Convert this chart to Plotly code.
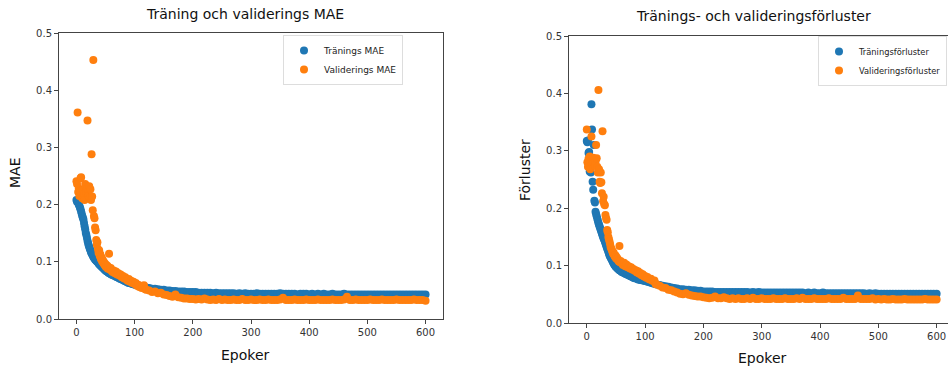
import plotly.graph_objects as go

# x sampling (epochs)
epochs = list(range(0, 60)) + list(range(60, 120, 2)) + list(range(120, 601, 5))

x_ticks = [0, 100, 200, 300, 400, 500, 600]
y_ticks = [0.0, 0.1, 0.2, 0.3, 0.4, 0.5]

train_mae = [
    0.208, 0.205, 0.206, 0.203, 0.200, 0.198, 0.195, 0.192, 0.188, 0.184,
    0.180, 0.177, 0.174, 0.168, 0.162, 0.157, 0.151, 0.147, 0.142, 0.137,
    0.133, 0.129, 0.126, 0.123, 0.120, 0.117, 0.115, 0.113, 0.111, 0.109,
    0.107, 0.106, 0.104, 0.103, 0.102, 0.101, 0.100, 0.099, 0.097, 0.096,
    0.095, 0.094, 0.093, 0.092, 0.091, 0.090, 0.089, 0.088, 0.087, 0.086,
    0.085, 0.084, 0.084, 0.083, 0.082, 0.081, 0.081, 0.080, 0.079, 0.079,
    # 60-118 step 2
    0.078, 0.077, 0.076, 0.075, 0.074, 0.073, 0.072, 0.071, 0.070, 0.069,
    0.068, 0.067, 0.066, 0.065, 0.064, 0.063, 0.063, 0.062, 0.061, 0.061,
    0.060, 0.060, 0.059, 0.058, 0.058, 0.057, 0.057, 0.056, 0.056, 0.055,
    # 120-600 step 5
    0.055, 0.054, 0.053, 0.053, 0.052, 0.051, 0.051, 0.050, 0.050, 0.049,
    0.049, 0.048, 0.048, 0.048, 0.047, 0.047, 0.047, 0.047, 0.046, 0.046,
    0.046, 0.046, 0.046, 0.045, 0.046, 0.045, 0.045, 0.045, 0.045, 0.045,
    0.045, 0.044, 0.045, 0.044, 0.045, 0.044, 0.044, 0.044, 0.045, 0.044,
    0.044, 0.044, 0.044, 0.044, 0.044, 0.044, 0.045, 0.044, 0.044, 0.044,
    0.044, 0.044, 0.043, 0.044, 0.044, 0.044, 0.043, 0.044, 0.043, 0.044,
    0.043, 0.044, 0.043, 0.043, 0.044, 0.043, 0.043, 0.043, 0.044, 0.043,
    0.043, 0.043, 0.043, 0.043, 0.043, 0.043, 0.043, 0.043, 0.043, 0.043,
    0.043, 0.043, 0.043, 0.043, 0.043, 0.043, 0.043, 0.043, 0.043, 0.043,
    0.043, 0.043, 0.043, 0.043, 0.043, 0.043, 0.043,
]

val_mae = [
    0.241, 0.236, 0.361, 0.222, 0.228, 0.215, 0.224, 0.246, 0.248, 0.218,
    0.211, 0.226, 0.214, 0.219, 0.208, 0.236, 0.232, 0.221, 0.228, 0.347,
    0.222, 0.215, 0.232, 0.212, 0.227, 0.208, 0.288, 0.214, 0.190, 0.453,
    0.180, 0.176, 0.160, 0.155, 0.138, 0.130, 0.134, 0.122, 0.116, 0.120,
    0.110, 0.113, 0.105, 0.108, 0.101, 0.104, 0.098, 0.100, 0.095, 0.097,
    0.092, 0.095, 0.090, 0.093, 0.088, 0.091, 0.114, 0.088, 0.086, 0.089,
    # 60-118 step 2
    0.085, 0.082, 0.085, 0.080, 0.083, 0.078, 0.080, 0.076, 0.078, 0.073,
    0.075, 0.071, 0.073, 0.069, 0.067, 0.070, 0.065, 0.067, 0.063, 0.065,
    0.061, 0.063, 0.058, 0.060, 0.056, 0.058, 0.054, 0.056, 0.059, 0.052,
    # 120-600 step 5
    0.051, 0.050, 0.047, 0.048, 0.045, 0.046, 0.043, 0.042, 0.040, 0.039,
    0.043, 0.038, 0.037, 0.036, 0.036, 0.035, 0.035, 0.034, 0.035, 0.034,
    0.036, 0.034, 0.033, 0.034, 0.033, 0.035, 0.033, 0.034, 0.033, 0.033,
    0.034, 0.033, 0.033, 0.035, 0.033, 0.033, 0.034, 0.033, 0.033, 0.034,
    0.033, 0.033, 0.034, 0.033, 0.033, 0.033, 0.034, 0.037, 0.033, 0.033,
    0.033, 0.034, 0.033, 0.033, 0.033, 0.034, 0.033, 0.033, 0.033, 0.034,
    0.033, 0.033, 0.033, 0.033, 0.034, 0.033, 0.033, 0.033, 0.034, 0.039,
    0.033, 0.033, 0.034, 0.033, 0.033, 0.033, 0.033, 0.034, 0.033, 0.033,
    0.033, 0.034, 0.033, 0.033, 0.033, 0.033, 0.034, 0.033, 0.033, 0.033,
    0.033, 0.033, 0.034, 0.033, 0.033, 0.033, 0.032,
]

train_loss = [
    0.317, 0.315, 0.318, 0.296, 0.298, 0.264, 0.280, 0.262, 0.381, 0.337,
    0.246, 0.232, 0.310, 0.213, 0.210, 0.194, 0.190, 0.186, 0.182, 0.178,
    0.174, 0.171, 0.168, 0.165, 0.162, 0.159, 0.156, 0.153, 0.150, 0.147,
    0.145, 0.142, 0.139, 0.136, 0.133, 0.130, 0.127, 0.124, 0.121, 0.118,
    0.116, 0.114, 0.112, 0.110, 0.108, 0.106, 0.104, 0.102, 0.101, 0.099,
    0.098, 0.097, 0.096, 0.095, 0.094, 0.093, 0.092, 0.092, 0.091, 0.090,
    # 60-118 step 2
    0.089, 0.088, 0.087, 0.086, 0.085, 0.084, 0.083, 0.082, 0.081, 0.080,
    0.079, 0.078, 0.078, 0.077, 0.076, 0.076, 0.075, 0.075, 0.074, 0.074,
    0.073, 0.073, 0.072, 0.072, 0.071, 0.070, 0.070, 0.069, 0.069, 0.068,
    # 120-600 step 5
    0.067, 0.066, 0.065, 0.064, 0.063, 0.062, 0.061, 0.060, 0.059, 0.059,
    0.058, 0.058, 0.057, 0.057, 0.056, 0.056, 0.055, 0.055, 0.055, 0.055,
    0.054, 0.054, 0.054, 0.054, 0.054, 0.054, 0.054, 0.054, 0.054, 0.054,
    0.054, 0.054, 0.053, 0.054, 0.053, 0.054, 0.053, 0.053, 0.053, 0.053,
    0.053, 0.053, 0.053, 0.053, 0.053, 0.053, 0.053, 0.053, 0.053, 0.053,
    0.053, 0.052, 0.053, 0.052, 0.053, 0.052, 0.052, 0.053, 0.052, 0.052,
    0.052, 0.052, 0.052, 0.052, 0.052, 0.052, 0.052, 0.052, 0.052, 0.052,
    0.052, 0.052, 0.051, 0.052, 0.051, 0.052, 0.051, 0.051, 0.051, 0.051,
    0.051, 0.051, 0.051, 0.051, 0.051, 0.051, 0.051, 0.051, 0.051, 0.051,
    0.051, 0.051, 0.051, 0.051, 0.051, 0.051, 0.051,
]

val_loss = [
    0.337, 0.280, 0.272, 0.286, 0.276, 0.290, 0.268, 0.282, 0.325, 0.284,
    0.277, 0.288, 0.279, 0.286, 0.274, 0.281, 0.310, 0.287, 0.272, 0.262,
    0.406, 0.268, 0.246, 0.244, 0.262, 0.245, 0.226, 0.334, 0.212, 0.220,
    0.207, 0.205, 0.188, 0.183, 0.180, 0.162, 0.158, 0.150, 0.146, 0.142,
    0.137, 0.132, 0.130, 0.127, 0.124, 0.121, 0.123, 0.118, 0.116, 0.118,
    0.113, 0.115, 0.111, 0.112, 0.109, 0.107, 0.134, 0.106, 0.108, 0.105,
    # 60-118 step 2
    0.104, 0.101, 0.105, 0.099, 0.102, 0.097, 0.099, 0.095, 0.097, 0.093,
    0.094, 0.091, 0.092, 0.088, 0.090, 0.086, 0.087, 0.083, 0.085, 0.081,
    0.082, 0.079, 0.080, 0.077, 0.076, 0.077, 0.074, 0.073, 0.074, 0.068,
    # 120-600 step 5
    0.067, 0.065, 0.062, 0.061, 0.058, 0.057, 0.055, 0.053, 0.051, 0.050,
    0.052, 0.049, 0.048, 0.047, 0.046, 0.046, 0.045, 0.044, 0.043, 0.044,
    0.046, 0.043, 0.043, 0.045, 0.043, 0.042, 0.043, 0.042, 0.043, 0.042,
    0.042, 0.043, 0.042, 0.044, 0.042, 0.042, 0.043, 0.042, 0.042, 0.042,
    0.043, 0.042, 0.042, 0.042, 0.043, 0.042, 0.042, 0.042, 0.043, 0.042,
    0.044, 0.042, 0.042, 0.042, 0.043, 0.042, 0.042, 0.042, 0.042, 0.043,
    0.042, 0.042, 0.042, 0.042, 0.044, 0.042, 0.042, 0.042, 0.042, 0.048,
    0.042, 0.042, 0.042, 0.042, 0.043, 0.041, 0.042, 0.041, 0.042, 0.041,
    0.041, 0.042, 0.041, 0.041, 0.041, 0.042, 0.041, 0.041, 0.041, 0.041,
    0.041, 0.041, 0.042, 0.041, 0.041, 0.041, 0.041,
]

BLUE = "#1f77b4"
ORANGE = "#ff7f0e"
FONT = "DejaVu Sans"
W, H = 948, 367

fig = go.Figure()
fig.add_trace(go.Scatter(x=epochs, y=train_mae, mode="markers", name="Tränings MAE",
                         marker=dict(color=BLUE, size=8), xaxis="x", yaxis="y", legend="legend"))
fig.add_trace(go.Scatter(x=epochs, y=val_mae, mode="markers", name="Validerings MAE",
                         marker=dict(color=ORANGE, size=8), xaxis="x", yaxis="y", legend="legend"))
fig.add_trace(go.Scatter(x=epochs, y=train_loss, mode="markers", name="Träningsförluster",
                         marker=dict(color=BLUE, size=8), xaxis="x2", yaxis="y2", legend="legend2"))
fig.add_trace(go.Scatter(x=epochs, y=val_loss, mode="markers", name="Valideringsförluster",
                         marker=dict(color=ORANGE, size=8), xaxis="x2", yaxis="y2", legend="legend2"))

axis_common = dict(showgrid=False, zeroline=False, showline=True, linecolor="#444", linewidth=1,
                   ticks="outside", ticklen=4, tickcolor="#444", tickwidth=1,
                   tickfont=dict(family=FONT, size=10, color="#333"))

fig.update_layout(
    width=W, height=H,
    margin=dict(l=0, r=0, t=0, b=0, autoexpand=False),
    paper_bgcolor="white", plot_bgcolor="white",
    font=dict(family=FONT, color="#222"),
    xaxis=dict(domain=[59 / W, 443 / W], range=[-30, 630], tickvals=x_ticks, mirror=True,
               anchor="y", **axis_common),
    yaxis=dict(domain=[1 - 319 / H, 1 - 33 / H], range=[0, 0.5], tickvals=y_ticks, tickformat=".1f",
               mirror=True, anchor="x", **axis_common),
    xaxis2=dict(domain=[569 / W, 1.0], range=[-30.5, 619.5], tickvals=x_ticks, mirror=True,
                anchor="y2", **axis_common),
    yaxis2=dict(domain=[1 - 323 / H, 1 - 36 / H], range=[0, 0.5], tickvals=y_ticks, tickformat=".1f",
                mirror=False, anchor="x2", **axis_common),
    legend=dict(x=283 / W, xanchor="left", y=1 - 35 / H, yanchor="top",
                bgcolor="white", bordercolor="#ddd", borderwidth=1,
                font=dict(family=FONT, size=9, color="#222"), itemwidth=30, tracegroupgap=0),
    legend2=dict(x=818 / W, xanchor="left", y=1 - 36 / H, yanchor="top",
                 bgcolor="white", bordercolor="#ddd", borderwidth=1,
                 font=dict(family=FONT, size=8.3, color="#222"), itemwidth=30, tracegroupgap=0),
    showlegend=True,
)

ann = [
    dict(text="Träning och validerings MAE", x=245 / W, y=1 - 14 / H, size=14),
    dict(text="Tränings- och valideringsförluster", x=753 / W, y=1 - 16 / H, size=14),
    dict(text="Epoker", x=245 / W, y=1 - 355 / H, size=14),
    dict(text="Epoker", x=762 / W, y=1 - 358 / H, size=14),
]
for a in ann:
    fig.add_annotation(text=a["text"], x=a["x"], y=a["y"], xref="paper", yref="paper",
                       xanchor="center", yanchor="middle", showarrow=False,
                       font=dict(family=FONT, size=a["size"], color="#111"))
fig.add_annotation(text="MAE", x=15 / W, y=1 - 173 / H, xref="paper", yref="paper",
                   xanchor="center", yanchor="middle", showarrow=False, textangle=-90,
                   font=dict(family=FONT, size=14, color="#111"))
fig.add_annotation(text="Förluster", x=525 / W, y=1 - 170 / H, xref="paper", yref="paper",
                   xanchor="center", yanchor="middle", showarrow=False, textangle=-90,
                   font=dict(family=FONT, size=14, color="#111"))

fig.write_html("out.html")
